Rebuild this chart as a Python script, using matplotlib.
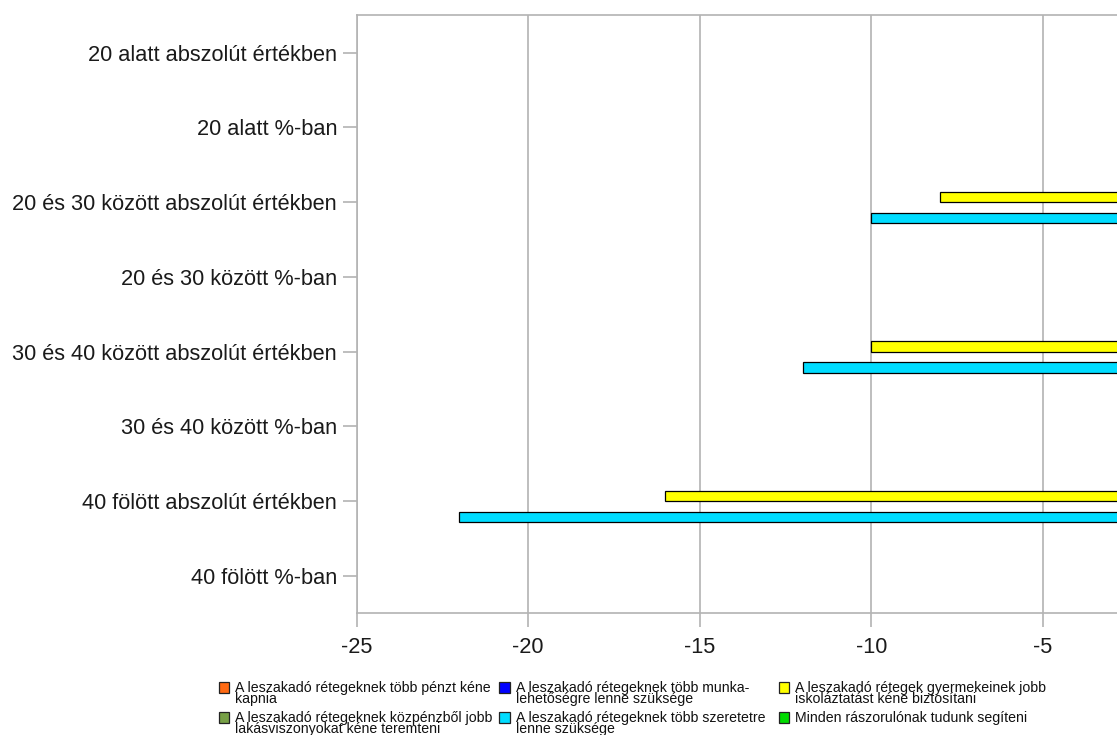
import matplotlib
matplotlib.use("Agg")
import matplotlib.pyplot as plt
from matplotlib.patches import Rectangle
import numpy as np

plt.rcParams['font.family'] = ['Liberation Sans', 'DejaVu Sans']
plt.rcParams['axes.unicode_minus'] = False

# ---- data ----
categories = [
    "20 alatt abszolút értékben",
    "20 alatt %-ban",
    "20 és 30 között abszolút értékben",
    "20 és 30 között %-ban",
    "30 és 40 között abszolút értékben",
    "30 és 40 között %-ban",
    "40 fölött abszolút értékben",
    "40 fölött %-ban",
]
series_labels = [
    "A leszakadó rétegeknek több pénzt kéne\nkapnia",
    "A leszakadó rétegeknek több munka-\nlehetőségre lenne szüksége",
    "A leszakadó rétegek gyermekeinek jobb\niskoláztatást kéne biztosítani",
    "A leszakadó rétegeknek közpénzből jobb\nlakásviszonyokat kéne teremteni",
    "A leszakadó rétegeknek több szeretetre\nlenne szüksége",
    "Minden rászorulónak tudunk segíteni",
]
penz = [0, 0, 0, 0, 0, 0, 0, 0]
munka = [0, 0, 0, 0, 0, 0, 0, 0]
iskola = [0, 0, -8, 0, -10, 0, -16, 0]
lakas = [0, 0, 0, 0, 0, 0, 0, 0]
szeretet = [0, 0, -10, 0, -12, 0, -22, 0]
segiteni = [0, 0, 0, 0, 0, 0, 0, 0]
series_values = [penz, munka, iskola, lakas, szeretet, segiteni]
colors = ["#FF6A13", "#0000FF", "#FFFF00", "#77A046", "#00DCFF", "#00DC00"]
xticks = [-25, -20, -15, -10, -5]
xtick_labels = ["-25", "-20", "-15", "-10", "-5"]

# ---- figure ----
W, H = 1117, 735
fig = plt.figure(figsize=(W / 100, H / 100), dpi=100)
px_per_unit = 34.33
ax_left, ax_top, ax_bottom = 356.5, 15.3, 613.3
ax = fig.add_axes([ax_left / W, (H - ax_bottom) / H,
                   25 * px_per_unit / W, (ax_bottom - ax_top) / H])

n = len(series_values)
h = 10.5 / ((ax_bottom - ax_top) / len(categories))
y = np.arange(len(categories))
for i, (vals, col) in enumerate(zip(series_values, colors)):
    ax.barh(y + (i - (n - 1) / 2) * h, vals, height=h, color=col,
            edgecolor="#000000", linewidth=0.9, zorder=3)

ax.set_xlim(-25, 0)
ax.set_ylim(len(categories) - 0.5, -0.5)
ax.set_yticks(y)
ax.set_yticklabels(categories)
ax.set_xticks(xticks)
ax.set_xticklabels(xtick_labels)

gray = "#b3b3b3"
ax.grid(axis="x", color=gray, linewidth=1.2, zorder=0)
ax.set_axisbelow(True)
for s in ax.spines.values():
    s.set_color(gray)
    s.set_linewidth(1.2)
ax.tick_params(axis="both", color=gray, length=10, width=1.2,
               labelsize=15.7, labelcolor="#1a1a1a")
ax.tick_params(axis="x", pad=7.3)
ax.tick_params(axis="y", pad=4.0)

# ---- legend (manual, row-wise) ----
col_x = [218.5, 499.3, 778.5]
row_top = [682.3, 712.3]
msize = 10.4
line_pitch = 10.5
for i, (lab, col) in enumerate(zip(series_labels, colors)):
    r, c = divmod(i, 3)
    x0 = col_x[c]
    yt = row_top[r]
    fig.add_artist(Rectangle((x0 / W, (H - yt - msize) / H), msize / W, msize / H,
                             facecolor=col, edgecolor="#222222", linewidth=0.9,
                             transform=fig.transFigure))
    nlines = lab.count("\n") + 1
    base_last = yt + 10.0 + (nlines - 1) * line_pitch
    fig.text((x0 + 16.5) / W, (H - base_last) / H, lab, fontsize=10.2,
             color="#111111", va="baseline", ha="left", linespacing=0.75)

fig.savefig("out.png", dpi=100)
